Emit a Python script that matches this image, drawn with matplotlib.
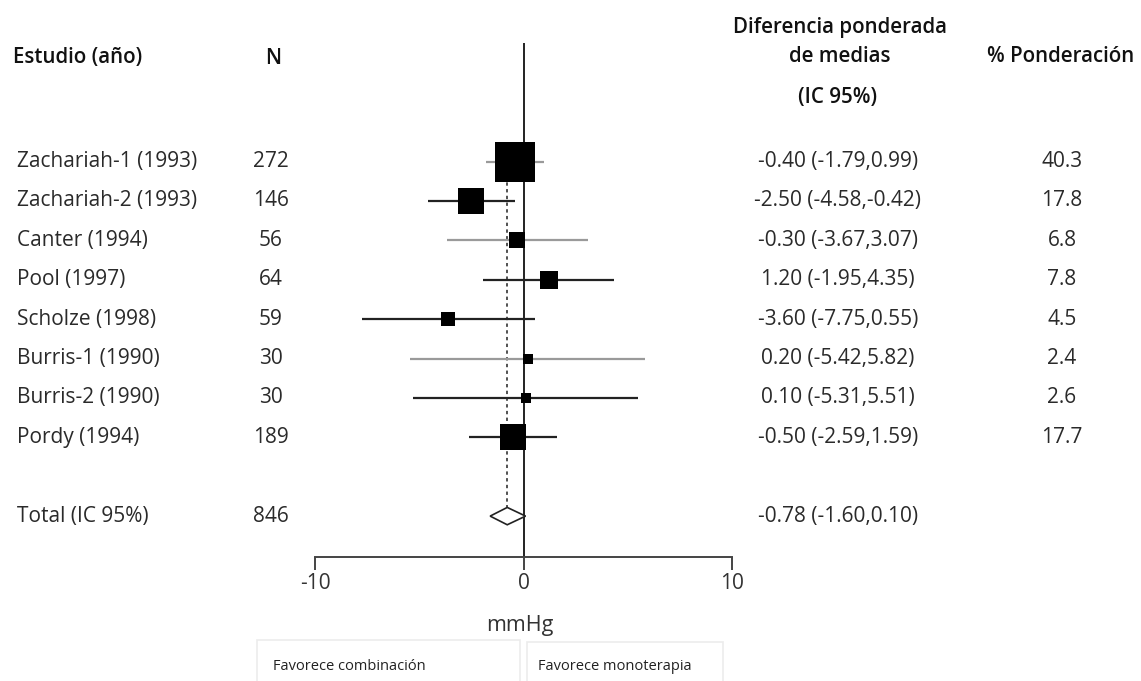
import matplotlib
matplotlib.use("Agg")
import matplotlib.pyplot as plt
import matplotlib.transforms as mtransforms
from matplotlib.patches import Polygon, Rectangle
import numpy as np

# ---------------- data ----------------
studies = ["Zachariah-1 (1993)", "Zachariah-2 (1993)", "Canter (1994)", "Pool (1997)",
           "Scholze (1998)", "Burris-1 (1990)", "Burris-2 (1990)", "Pordy (1994)"]
n_values = [272, 146, 56, 64, 59, 30, 30, 189]
md = [-0.40, -2.50, -0.30, 1.20, -3.60, 0.20, 0.10, -0.50]
ci_low = [-1.79, -4.58, -3.67, -1.95, -7.75, -5.42, -5.31, -2.59]
ci_high = [0.99, -0.42, 3.07, 4.35, 0.55, 5.82, 5.51, 1.59]
ci_labels = ["-0.40 (-1.79,0.99)", "-2.50 (-4.58,-0.42)", "-0.30 (-3.67,3.07)",
             "1.20 (-1.95,4.35)", "-3.60 (-7.75,0.55)", "0.20 (-5.42,5.82)",
             "0.10 (-5.31,5.51)", "-0.50 (-2.59,1.59)"]
weights = [40.3, 17.8, 6.8, 7.8, 4.5, 2.4, 2.6, 17.7]
line_gray = [True, False, True, False, False, True, False, False]

total_label = "Total (IC 95%)"
total_n = 846
total_md = -0.78
total_low = -1.60
total_high = 0.10
total_ci_label = "-0.78 (-1.60,0.10)"

xticks = [-10, 0, 10]
xtick_labels = ["-10", "0", "10"]

# ---------------- figure ----------------
W, H = 1141, 681
fig = plt.figure(figsize=(W / 100, H / 100), dpi=100)
plt.rcParams['font.family'] = ['Open Sans', 'DejaVu Sans']

def fx(px):
    return px / W

def fy(py):
    return 1 - py / H

ax_left, ax_right = 315, 732
ax_top, ax_bottom = 43, 557
ax = fig.add_axes([fx(ax_left), fy(ax_bottom), (ax_right - ax_left) / W, (ax_bottom - ax_top) / H])
row0_px, row_step = 161.5, 39.4
ax.set_xlim(-10, 10)
ax.set_ylim((ax_bottom - row0_px) / row_step, (ax_top - row0_px) / row_step)
ax.patch.set_alpha(0)

for s in ["top", "left", "right"]:
    ax.spines[s].set_visible(False)
ax.spines["bottom"].set_bounds(-10, 10)
ax.spines["bottom"].set_color("#444444")
ax.spines["bottom"].set_linewidth(1.4)
ax.set_yticks([])
ax.set_xticks(xticks)
ax.set_xticklabels(xtick_labels)
fs = 15
ax.tick_params(axis="x", direction="out", length=9.5, width=1.4, color="#444444",
               labelsize=15, labelcolor="#333333", pad=2)

# zero line
ax.axvline(0, color="#222222", lw=1.4, zorder=1)

rows = np.arange(len(studies))
total_row = len(studies) + 1

# dashed overall line
diamond_h = 0.22
ax.vlines(total_md, -0.5, total_row - diamond_h, colors="#222222", lw=1.1,
          linestyles=(0, (2.2, 2.2)), zorder=1)

# CI lines and squares
max_w = max(weights)
max_side_pt = 29.0
for i in rows:
    col = "#9a9a9a" if line_gray[i] else "#222222"
    ax.hlines(i, ci_low[i], ci_high[i], colors=col, lw=1.6, zorder=2)
    side = max_side_pt * np.sqrt(weights[i] / max_w)
    ax.plot(md[i], i, marker="s", ms=side, color="black", mec="black", mew=0, zorder=3)

# diamond
diamond = Polygon([(total_low, total_row), (total_md, total_row - diamond_h),
                   (total_high, total_row), (total_md, total_row + diamond_h)],
                  closed=True, facecolor="white", edgecolor="#222222", lw=1.2, zorder=3)
ax.add_patch(diamond)

# ---------------- text columns ----------------
trans = mtransforms.blended_transform_factory(fig.transFigure, ax.transData)
txt_color = "#2a2a2a"
for i in rows:
    ax.text(fx(17), i, studies[i], transform=trans, ha="left", va="center", fontsize=fs,
            color=txt_color, clip_on=False)
    ax.text(fx(271), i, str(n_values[i]), transform=trans, ha="center", va="center",
            fontsize=fs, color=txt_color, clip_on=False)
    ax.text(fx(838), i, ci_labels[i], transform=trans, ha="center", va="center",
            fontsize=fs, color=txt_color, clip_on=False)
    ax.text(fx(1062), i, f"{weights[i]:.1f}", transform=trans, ha="center", va="center",
            fontsize=fs, color=txt_color, clip_on=False)

ax.text(fx(17), total_row, total_label, transform=trans, ha="left", va="center",
        fontsize=fs, color=txt_color, clip_on=False)
ax.text(fx(271), total_row, str(total_n), transform=trans, ha="center", va="center",
        fontsize=fs, color=txt_color, clip_on=False)
ax.text(fx(838), total_row, total_ci_label, transform=trans, ha="center", va="center",
        fontsize=fs, color=txt_color, clip_on=False)

# headers
hc = "#111111"
hfs = 14.8
fig.text(fx(13), fy(58), "Estudio (año)", ha="left", va="center", fontsize=hfs,
         fontweight="semibold", color=hc)
fig.text(fx(273), fy(58), "N", ha="center", va="center", fontsize=hfs,
         fontweight="semibold", color=hc)
fig.text(fx(840), fy(28), "Diferencia ponderada", ha="center", va="center", fontsize=hfs,
         fontweight="semibold", color=hc)
fig.text(fx(840), fy(56), "de medias", ha="center", va="center", fontsize=hfs,
         fontweight="semibold", color=hc)
fig.text(fx(838), fy(98), "(IC 95%)", ha="center", va="center", fontsize=hfs,
         fontweight="semibold", color=hc)
fig.text(fx(1061), fy(57), "% Ponderación", ha="center", va="center", fontsize=hfs,
         fontweight="semibold", color=hc)

# axis label
fig.text(fx(520), fy(625), "mmHg", ha="center", va="center", fontsize=15.5, color="#333333")

# bottom boxes
fig.patches.append(Rectangle((fx(257), fy(700)), (520 - 257) / W, (700 - 640) / H,
                             transform=fig.transFigure, facecolor="none",
                             edgecolor="#ececec", lw=1.2))
fig.patches.append(Rectangle((fx(527), fy(700)), (723 - 527) / W, (700 - 642) / H,
                             transform=fig.transFigure, facecolor="none",
                             edgecolor="#ececec", lw=1.2))
fig.text(fx(273), fy(666), "Favorece combinación", ha="left", va="center", fontsize=10.5,
         color="#222222")
fig.text(fx(538), fy(667), "Favorece monoterapia", ha="left", va="center", fontsize=10.5,
         color="#222222")

fig.savefig("out.png", dpi=100, facecolor="white")
